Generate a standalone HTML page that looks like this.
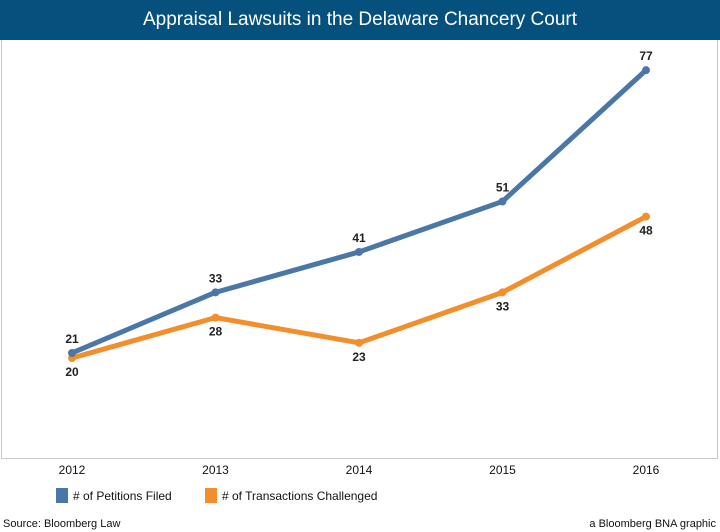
<!DOCTYPE html>
<html><head><meta charset="utf-8"><style>
body{margin:0;width:720px;height:532px;background:#fff;font-family:"Liberation Sans",sans-serif;overflow:hidden;position:relative}
#title{position:absolute;left:0;top:0;width:720px;height:40px;background:#06507d;color:#fff;font-size:19px;text-align:center;line-height:40px}
#plot{position:absolute;left:1px;top:40px;width:715px;height:418px;border:1px solid #c8c8c8;border-top:none}
.lg{position:absolute;top:488px;width:12px;height:15px}
.t{position:absolute;font-size:12px;color:#111}
</style></head><body>
<div id="title">Appraisal Lawsuits in the Delaware Chancery Court</div>
<div id="plot"></div>
<svg id="svg" width="720" height="532" style="position:absolute;left:0;top:0"></svg>
<div class="lg" style="left:56px;background:#4a76a8"></div>
<div class="t" style="left:73px;top:489px"># of Petitions Filed</div>
<div class="lg" style="left:205px;background:#f28e2b"></div>
<div class="t" style="left:222px;top:489px"># of Transactions Challenged</div>
<div class="t" style="left:3px;top:518px;font-size:11px">Source: Bloomberg Law</div>
<div class="t" style="right:4px;top:518px;font-size:11px">a Bloomberg BNA graphic</div>
<script>
const years=["2012","2013","2014","2015","2016"];
const petitions=[21,33,41,51,77];
const transactions=[20,28,23,33,48];
const NS="http://www.w3.org/2000/svg";
const svg=document.getElementById('svg');
const x=i=>72+i*143.5;
const y=v=>459-5.05*v;
function mk(t,a){const e=document.createElementNS(NS,t);for(const k in a)e.setAttribute(k,a[k]);svg.appendChild(e);return e;}
years.forEach((yr,i)=>{const e=mk('text',{x:x(i),y:474,'text-anchor':'middle','font-size':12,fill:'#111'});e.textContent=yr;

});
function series(vals,color,name,above){
 const p=mk('polyline',{points:vals.map((v,i)=>x(i)+','+y(v)).join(' '),fill:'none',stroke:color,'stroke-width':5,'stroke-linejoin':'round'});
 
 
 vals.forEach((v,i)=>{const c=mk('circle',{cx:x(i),cy:y(v),r:4,fill:color});
 
 
 const up=above[i];
 const t=mk('text',{x:x(i),y:up?y(v)-10:y(v)+18,'text-anchor':'middle','font-size':12,'font-weight':'bold',fill:'#222'});t.textContent=v;
 
 });
}
series(transactions,'#f28e2b','transactions',[false,false,false,false,false]);
series(petitions,'#4a76a8','petitions',[true,true,true,true,true]);
</script>
</body></html>
